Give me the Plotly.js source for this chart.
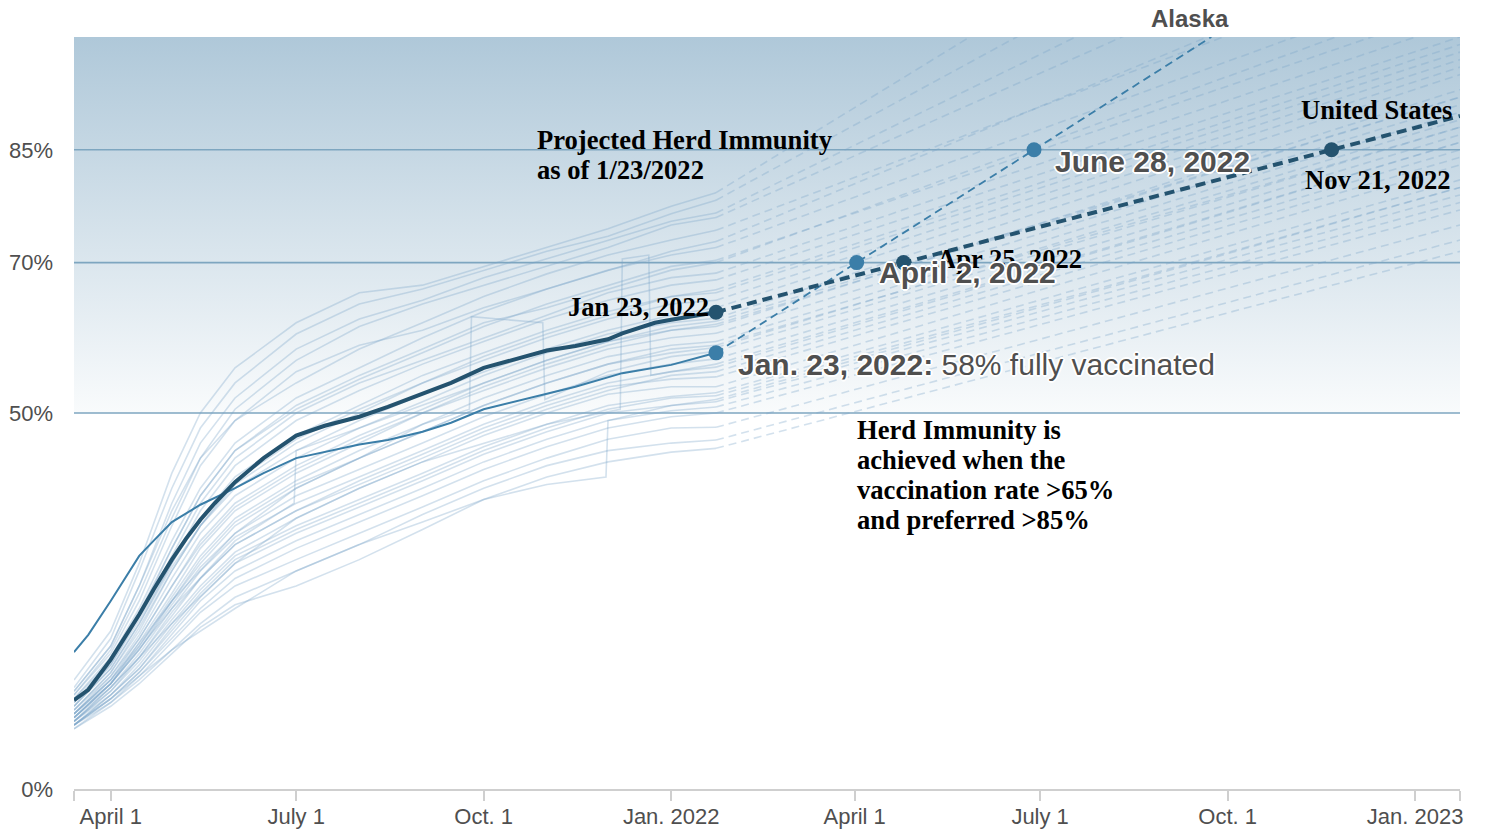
<!DOCTYPE html>
<html>
<head>
<meta charset="utf-8">
<script src="https://cdn.plot.ly/plotly-3.0.1.min.js"></script>
<style>
html,body{margin:0;padding:0;background:#fff;}
#chart{width:1485px;height:832px;}
</style>
</head>
<body>
<div id="chart"></div>
<script>
// ---------------- DATA ----------------
const dates = ['2021-03-14','2021-04-01','2021-04-15','2021-05-01','2021-05-15','2021-06-01','2021-07-01','2021-08-01','2021-09-01','2021-10-01','2021-11-01','2021-12-01','2022-01-01','2022-01-23'];

const usDates = ['2021-03-14','2021-03-21','2021-04-01','2021-04-08','2021-04-15','2021-04-22','2021-05-01','2021-05-08','2021-05-15','2021-05-22','2021-06-01','2021-06-15','2021-07-01','2021-07-15','2021-08-01','2021-08-15','2021-09-01','2021-09-15','2021-10-01','2021-10-15','2021-11-01','2021-11-15','2021-12-01','2021-12-08','2021-12-24','2022-01-01','2022-01-23'];
const usValues = [11.8, 13.2, 17.2, 20.2, 23.2, 26.5, 30.5, 33.3, 35.8, 38, 40.8, 44, 47, 48.3, 49.5, 50.8, 52.5, 54, 56, 57, 58.3, 58.9, 59.8, 60.6, 62, 62.4, 63.4];

const alaskaDates = ['2021-03-14','2021-03-21','2021-04-01','2021-04-08','2021-04-15','2021-04-22','2021-05-01','2021-05-15','2021-06-01','2021-06-15','2021-07-01','2021-08-01','2021-08-15','2021-09-01','2021-09-15','2021-10-01','2021-11-01','2021-11-15','2021-12-08','2022-01-01','2022-01-23'];
const alaskaValues = [18.2, 20.5, 25, 28, 31, 33, 35.5, 37.8, 40, 42, 44, 45.8, 46.4, 47.5, 48.7, 50.5, 52.6, 53.5, 55.3, 56.4, 58];

// state-level fully vaccinated shares (%) at the dates above
const stateValues = [
  [14.5, 21, 30, 42, 50, 56, 62, 66, 67, 69.5, 72, 74.5, 77.5, 79.3],
  [13.5, 20, 29, 40, 48, 54, 60.5, 64.5, 66.5, 69, 71.5, 73.5, 76.5, 78.3],
  [13, 19, 27, 38, 46, 52, 58.5, 62.5, 65, 68, 70.5, 73, 75.5, 76.6],
  [12.5, 18.5, 26, 36, 44, 50.5, 57, 61.5, 64.5, 67, 69.5, 72, 75, 76],
  [12.5, 18, 25, 35, 43, 49, 55.5, 59, 61, 64, 66.5, 69, 71.5, 72.8],
  [13, 19, 27, 37, 44, 49, 54, 58.5, 62, 65.5, 68.5, 71, 73, 74.3],
  [12, 17.5, 24, 33, 40, 46, 52, 56, 60, 63.5, 66.5, 69, 71, 72],
  [11, 16.5, 23, 32, 39, 45, 51, 55, 58.5, 62, 64, 66.5, 69, 70],
  [11.5, 17, 23.5, 32, 39, 45, 50.5, 54.5, 58, 61.5, 64.5, 67, 69.5, 70.3],
  [12, 17, 23, 31, 38, 44, 50, 54, 57, 60, 63, 66, 68, 68.6],
  [11, 16, 22, 30, 37, 43, 49, 53, 56.5, 59.5, 62.5, 65, 67, 67.7],
  [11.5, 16.5, 22.5, 30, 36, 41.5, 47, 51, 55, 58, 61, 63.5, 65.5, 66.4],
  [10.5, 15.5, 21.5, 29, 35, 41, 46.5, 50.5, 54, 57.5, 60.5, 63, 65.5, 66],
  [10.5, 15.5, 21, 29, 35, 40.5, 46, 50, 54, 57, 60, 62.5, 64.5, 65],
  [11, 16, 22, 29.5, 35, 40, 45, 49, 52.5, 55.5, 58.5, 61, 63, 64],
  [10, 15, 20.5, 28, 34, 39, 44, 48, 51.5, 55, 58, 60.5, 62, 62.6],
  [10, 14.5, 20, 27, 32.5, 37.5, 42.5, 46.5, 50, 53.5, 56.5, 59, 61, 61.8],
  [10.5, 15, 20, 27, 33, 38, 43, 47, 50.5, 54, 57, 59.5, 61, 61.5],
  [9.5, 14, 19.5, 26, 32, 37, 42, 46, 50, 53, 56, 58.5, 60, 60.6],
  [10, 14.5, 19, 25.5, 31, 36, 41, 45, 48.5, 52, 55, 57.5, 59, 59.5],
  [9.5, 14, 19, 25, 30.5, 35.5, 40.5, 44, 47.5, 51, 54, 56.5, 58.5, 59],
  [9.5, 14, 18.5, 25, 30, 35, 40, 44, 47.5, 51, 54, 56.5, 58, 58.7],
  [10, 14, 18.5, 24.5, 29.5, 34, 39, 42.5, 46, 49.5, 52.5, 55, 56.5, 57.2],
  [9, 13.5, 18, 24, 29, 33.5, 38, 41.5, 45, 48.5, 51.5, 54, 55.5, 56.1],
  [9, 13, 17.5, 23.5, 28, 32.5, 37, 40.5, 44, 47.5, 50.5, 53, 55, 55.5],
  [9.5, 13.5, 17.5, 23, 28, 32.5, 37, 41, 44.5, 48, 51, 53.5, 54.5, 54.8],
  [9, 13, 17, 22.5, 27, 31.5, 36, 40, 43.5, 47, 50, 52.5, 53.5, 53.5],
  [8.5, 12.5, 16.5, 22, 26.5, 31, 35, 38.5, 42, 45.5, 48.5, 51, 52.2, 52.7],
  [8.5, 12.5, 16, 21.5, 26, 30.5, 34.5, 38, 41.5, 45, 48, 50.5, 52, 52.3],
  [9, 12.5, 16, 21, 25.5, 30, 34, 37.5, 41, 44.5, 47.5, 50, 51, 51.5],
  [8.5, 12, 15.5, 20.5, 25, 29, 33, 36.5, 40, 43.5, 46.5, 49, 50.3, 50.8],
  [8.5, 12, 15.5, 20, 24, 28, 32, 35.5, 39, 42.5, 45.5, 48, 49.5, 50],
  [8, 11.5, 15, 19.5, 23.5, 27, 30.5, 34, 37.5, 41, 44, 46.5, 48, 48.1],
  [8.5, 11.5, 14.5, 18.5, 22, 25.5, 29, 32.5, 36.5, 40, 43, 45, 46, 46.4],
  [8, 11, 14, 18, 21.5, 24.5, 27, 30.5, 34.5, 38.5, 41.5, 43.5, 44.8, 45.3]
];
// projected share on the last day of the chart (2023-01-23) for each state above
const stateProjEnd = [140, 132, 125, 120, 114, 112, 108, 106, 104, 102, 100, 99, 98, 97, 96, 95, 92, 93, 91, 90, 88, 89, 87, 86, 85, 84, 83, 81, 80, 79, 78, 77, 75, 73, 71.5];

// states whose reported series contain data corrections (jumps)
const jumpStateDates = [
  ['2021-03-14','2021-04-01','2021-05-01','2021-06-01','2021-06-30','2021-07-01','2021-08-01','2021-09-01','2021-10-01','2021-11-01','2021-12-01','2022-01-01','2022-01-23'],
  ['2021-03-14','2021-04-01','2021-05-01','2021-06-01','2021-07-01','2021-08-01','2021-09-01','2021-10-01','2021-11-01','2021-11-30','2021-12-01','2022-01-01','2022-01-23'],
  ['2021-03-14','2021-04-01','2021-05-01','2021-06-01','2021-07-01','2021-08-01','2021-09-01','2021-10-01','2021-11-01','2021-12-07','2021-12-08','2021-12-21','2021-12-22','2022-01-23'],
  ['2021-03-14','2021-04-01','2021-05-01','2021-06-01','2021-07-01','2021-08-01','2021-09-01','2021-09-24','2021-09-25','2021-10-30','2021-10-31','2021-12-01','2022-01-01','2022-01-23']
];
const jumpStateValues = [
  [9.5, 14, 24, 33, 38, 45, 48, 51, 54, 57, 59.5, 61.5, 62.2],
  [8.5, 12, 18.5, 24, 29, 32.5, 35.5, 38.5, 40.5, 41.5, 49, 51, 51.8],
  [9, 13.5, 22, 30, 36, 40, 43.5, 46, 48.5, 50.5, 70.5, 71, 55, 56.5],
  [10, 14.5, 25, 34, 40, 44, 48.5, 50.5, 62.8, 62, 51.8, 55.5, 57.5, 58.2]
];
const jumpStateProjEnd = [92, 80, 86, 88];
const projEndDate = '2023-01-23';

const usProjDates = ['2022-01-23', '2022-04-25', '2022-11-21', '2023-01-23'];
const usProjValues = [63.4, 70, 85, 89.5];
const akProjDates = ['2022-01-23', '2022-04-02', '2022-06-28', '2022-09-23'];
const akProjValues = [58, 70, 85, 100];

const usMarkerDates = ['2022-01-23', '2022-04-25', '2022-11-21'];
const usMarkerValues = [63.4, 70, 85];
const akMarkerDates = ['2022-01-23', '2022-04-02', '2022-06-28'];
const akMarkerValues = [58, 70, 85];

const xTickVals = ['2021-03-14', '2021-04-01', '2021-07-01', '2021-10-01', '2022-01-01', '2022-04-01', '2022-07-01', '2022-10-01', '2023-01-01', '2023-01-23'];
const xTickText = ['', 'April 1', 'July 1', 'Oct. 1', 'Jan. 2022', 'April 1', 'July 1', 'Oct. 1', 'Jan. 2023', ''];
const yTickVals = [0, 50, 70, 85];
const yTickText = ['0%', '50%', '70%', '85%'];
const herdLines = [50, 70, 85];

// ---------------- STYLE ----------------
const SANS = '"Liberation Sans", Arial, Helvetica, sans-serif';
const SERIF = '"Liberation Serif", "Times New Roman", Times, serif';
const GREY = '#4f4f4f';
const HALO = '0 0 2px #fff, 0 0 2px #fff, 1px 1px 0 #fff, -1px -1px 0 #fff, 1px -1px 0 #fff, -1px 1px 0 #fff, 0 2px 0 #fff, 0 -2px 0 #fff, 2px 0 0 #fff, -2px 0 0 #fff';
const US_COLOR = '#24536f';
const AK_COLOR = '#3b7ea8';
const STATE_COLOR = 'rgba(120,165,200,0.33)';

const traces = [];
function addState(xs, ys, end) {
  traces.push({x: xs, y: ys, type: 'scatter', mode: 'lines',
    line: {color: STATE_COLOR, width: 1.6}, hoverinfo: 'skip', showlegend: false});
  traces.push({x: [xs[xs.length - 1], projEndDate], y: [ys[ys.length - 1], end],
    type: 'scatter', mode: 'lines',
    line: {color: STATE_COLOR, width: 1.6, dash: '8px,5px'}, hoverinfo: 'skip', showlegend: false});
}
stateValues.forEach((vals, i) => addState(dates, vals, stateProjEnd[i]));
jumpStateValues.forEach((vals, i) => addState(jumpStateDates[i], vals, jumpStateProjEnd[i]));

traces.push({x: alaskaDates, y: alaskaValues, type: 'scatter', mode: 'lines', line: {color: AK_COLOR, width: 2}, hoverinfo: 'skip', showlegend: false});
traces.push({x: akProjDates, y: akProjValues, type: 'scatter', mode: 'lines', line: {color: AK_COLOR, width: 1.8, dash: '8px,5px'}, hoverinfo: 'skip', showlegend: false});
traces.push({x: usDates, y: usValues, type: 'scatter', mode: 'lines', line: {color: US_COLOR, width: 4}, hoverinfo: 'skip', showlegend: false});
traces.push({x: usProjDates, y: usProjValues, type: 'scatter', mode: 'lines', line: {color: US_COLOR, width: 4, dash: '10px,6px'}, hoverinfo: 'skip', showlegend: false});
traces.push({x: akMarkerDates, y: akMarkerValues, type: 'scatter', mode: 'markers', marker: {color: AK_COLOR, size: 15}, hoverinfo: 'skip', showlegend: false});
traces.push({x: usMarkerDates, y: usMarkerValues, type: 'scatter', mode: 'markers', marker: {color: US_COLOR, size: 15}, hoverinfo: 'skip', showlegend: false});

const gradSvg = "<svg xmlns='http://www.w3.org/2000/svg' width='10' height='100' preserveAspectRatio='none'><defs><linearGradient id='g' x1='0' y1='0' x2='0' y2='1'><stop offset='0' stop-color='#afc8d9'/><stop offset='1' stop-color='#f9fbfc'/></linearGradient></defs><rect width='10' height='100' fill='url(#g)'/></svg>";
const gradUri = 'data:image/svg+xml;charset=utf-8,' + encodeURIComponent(gradSvg);

const serifFont = {family: SERIF, size: 26.6, color: '#000', weight: 700};
const haloFont = {family: SANS, size: 30, color: GREY, weight: 700, shadow: HALO};

const annotations = [
  {xref: 'paper', yref: 'y', x: 0.3326, y: 86.3, xanchor: 'left', yanchor: 'middle', text: 'Projected Herd Immunity', showarrow: false, font: serifFont},
  {xref: 'paper', yref: 'y', x: 0.3326, y: 82.3, xanchor: 'left', yanchor: 'middle', text: 'as of 1/23/2022', showarrow: false, font: serifFont},
  {xref: 'paper', yref: 'y', x: 0.5635, y: 47.7, xanchor: 'left', yanchor: 'middle', text: 'Herd Immunity is', showarrow: false, font: serifFont},
  {xref: 'paper', yref: 'y', x: 0.5635, y: 43.75, xanchor: 'left', yanchor: 'middle', text: 'achieved when the', showarrow: false, font: serifFont},
  {xref: 'paper', yref: 'y', x: 0.5635, y: 39.8, xanchor: 'left', yanchor: 'middle', text: 'vaccination rate &gt;65%', showarrow: false, font: serifFont},
  {xref: 'paper', yref: 'y', x: 0.5635, y: 35.8, xanchor: 'left', yanchor: 'middle', text: 'and preferred &gt;85%', showarrow: false, font: serifFont},
  {x: '2022-01-23', y: 63.4, xanchor: 'right', yanchor: 'middle', xshift: -5, yshift: 5, text: 'Jan 23, 2022', showarrow: false, font: serifFont},
  {x: '2022-01-23', y: 58, xanchor: 'left', yanchor: 'middle', xshift: 20, yshift: -12, text: '<b>Jan. 23, 2022:</b> <span style="font-weight:400">58% fully vaccinated</span>', showarrow: false, font: {family: SANS, size: 30, color: GREY, weight: 400, shadow: HALO}},
  {x: '2022-04-25', y: 70, xanchor: 'left', yanchor: 'middle', xshift: 31, yshift: 4, text: 'Apr 25, 2022', showarrow: false, font: serifFont},
  {x: '2022-04-02', y: 70, xanchor: 'left', yanchor: 'middle', xshift: 20, yshift: -10, text: 'April 2, 2022', showarrow: false, font: haloFont},
  {x: '2022-06-28', y: 85, xanchor: 'left', yanchor: 'middle', xshift: 19, yshift: -12, text: 'June 28, 2022', showarrow: false, font: haloFont},
  {xref: 'paper', yref: 'y', x: 1, y: 90.3, xanchor: 'right', yanchor: 'middle', xshift: -6, text: 'United States', showarrow: false, font: serifFont},
  {x: '2022-11-21', y: 85, xanchor: 'center', yanchor: 'middle', xshift: 46, yshift: -30, text: 'Nov 21, 2022', showarrow: false, font: serifFont},
  {xref: 'paper', yref: 'paper', x: 0.805, y: 1.025, xanchor: 'center', yanchor: 'middle', text: 'Alaska', showarrow: false, font: {family: SANS, size: 24, color: GREY, weight: 700}}
];

const shapes = herdLines.map(v => ({type: 'line', xref: 'paper', yref: 'y', x0: 0, x1: 1, y0: v, y1: v, layer: 'below', line: {color: '#7ea6c0', width: 1.6}}));

const layout = {
  width: 1485, height: 832,
  margin: {l: 74, r: 25, t: 37, b: 43, pad: 0},
  paper_bgcolor: '#ffffff', plot_bgcolor: '#ffffff',
  showlegend: false,
  xaxis: {type: 'date', range: ['2021-03-14', '2023-01-23'], tickvals: xTickVals, ticktext: xTickText,
    showgrid: false, zeroline: false, showline: true, linecolor: '#cfcfcf', linewidth: 2,
    ticks: 'outside', ticklen: 10, tickwidth: 2, tickcolor: '#cfcfcf', ticklabelstandoff: -3,
    tickfont: {family: SANS, size: 22, color: GREY}, fixedrange: true},
  yaxis: {range: [0, 100], tickvals: yTickVals, ticktext: yTickText, showgrid: false, zeroline: false, showline: false,
    ticks: '', ticklabelstandoff: 20, tickfont: {family: SANS, size: 22, color: GREY}, fixedrange: true},
  images: [{source: gradUri, xref: 'paper', yref: 'y', x: 0, y: 100, sizex: 1, sizey: 50, sizing: 'stretch', layer: 'below', xanchor: 'left', yanchor: 'top'}],
  shapes: shapes,
  annotations: annotations
};

Plotly.newPlot('chart', traces, layout, {staticPlot: true, displayModeBar: false});
</script>
</body>
</html>
